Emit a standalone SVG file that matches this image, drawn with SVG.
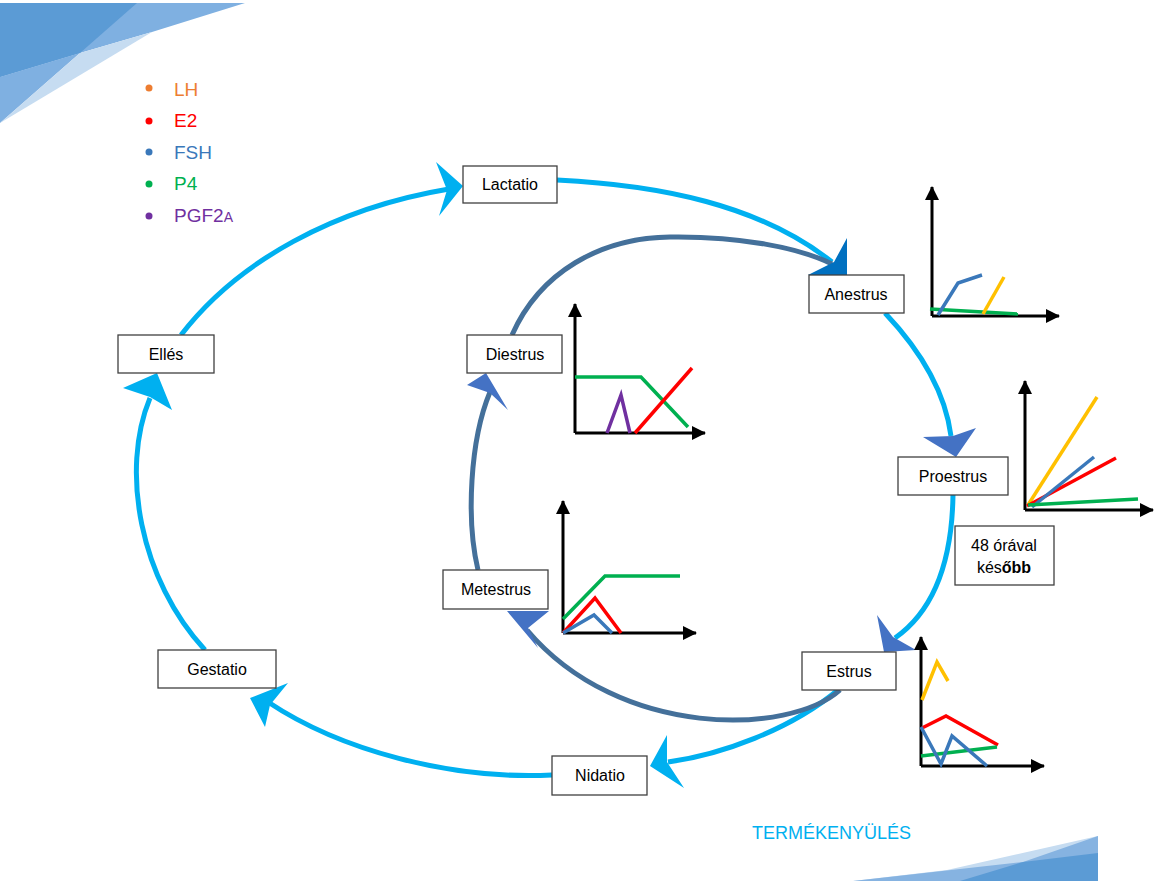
<svg xmlns="http://www.w3.org/2000/svg" width="1163" height="886" viewBox="0 0 1163 886">
<defs>
<style>
.box{fill:#fff;stroke:#404040;stroke-width:1.3}
.lbl{font-family:"Liberation Sans",Arial,sans-serif;font-size:16px;fill:#000;text-anchor:middle}
.outer{fill:none;stroke:#00B0F0;stroke-width:5}
.inner{fill:none;stroke:#44709A;stroke-width:5}
.ah-l{fill:#00B0F0}
.ah-d{fill:#4472C4}
.ah-x{fill:#0070C0}
.axis{fill:none;stroke:#000;stroke-width:3;marker-end:url(#ax)}
.d{fill:none;stroke-width:3.5}
.lh{stroke:#FFC000}.e2{stroke:#FF0000}.fsh{stroke:#3A78BA}.p4{stroke:#00B050}.pgf{stroke:#7030A0}
.leg{font-family:"Liberation Sans",Arial,sans-serif;font-size:19px}
</style>
<marker id="ax" markerUnits="userSpaceOnUse" markerWidth="14" markerHeight="14" refX="13" refY="7" orient="auto">
<path d="M0,0 L14,7 L0,14 Z" fill="#000"/>
</marker>
</defs>
<rect width="1163" height="886" fill="#fff"/>

<g id="decor-top">
<polygon points="0,3 245,3 152,32 80,53 0,77" fill="#7FB0E1"/>
<polygon points="0,77 80,53 0,123" fill="#7FB0E1"/>
<polygon points="0,123 80,53 152,32" fill="#C6DCF1"/>
<polygon points="0,3 137,3 80,53 0,77" fill="#5B9BD5"/>
</g>
<g id="decor-bottom">
<polygon points="853,881 947,870 1098,836 1098,881" fill="#C6DCF1"/>
<polygon points="853,881 1023,862 1098,836 1098,881" fill="#86B3E1"/>
<polygon points="960,881 1023,862 1098,853 1098,881" fill="#5B9BD5"/>
</g>

<g id="legend">
<circle cx="149" cy="88" r="3.5" fill="#ED7D31"/><text class="leg" x="174" y="96" fill="#ED7D31">LH</text>
<circle cx="149" cy="121" r="3.5" fill="#FF0000"/><text class="leg" x="174" y="127" fill="#FF0000">E2</text>
<circle cx="149" cy="152" r="3.5" fill="#3A78BA"/><text class="leg" x="174" y="159" fill="#3A78BA">FSH</text>
<circle cx="149" cy="184" r="3.5" fill="#00B050"/><text class="leg" x="174" y="190" fill="#00B050">P4</text>
<circle cx="149" cy="216" r="3.5" fill="#7030A0"/><text class="leg" x="174" y="222" fill="#7030A0">PGF2<tspan font-size="14px">A</tspan></text>
</g>

<g id="connectors">
<path class="outer" d="M181,335 A412,298 0 0 1 449,189"/>
<path class="outer" d="M557,180 C660,185 760,205 832,262"/>
<path class="outer" d="M885,313 C920,350 945,390 951,436"/>
<path class="outer" d="M953,495 C952,560 935,610 895,638"/>
<path class="outer" d="M838,690 C790,730 720,755 668,762"/>
<path class="outer" d="M552,775 C450,780 340,750 268,702"/>
<path class="outer" d="M205,650 C140,580 120,470 150,398"/>
<path class="inner" d="M512,335 C540,272 600,238 670,237 C740,236 800,248 832,264"/>
<path class="inner" d="M478,570 C466,520 470,440 490,392"/>
<path class="inner" d="M840,690 C790,735 620,740 527,630"/>
<polygon class="ah-l" points="436,162 463,186 439,216 447,190"/>
<polygon class="ah-l" points="157,373 123,388 150,397 172,410"/>
<polygon class="ah-l" points="250,698 288,683 270,705 265,727"/>
<polygon class="ah-l" points="650,766 667,735 667,762 684,788"/>
<polygon class="ah-x" points="847,275 847,238 834,262 808,275"/>
<polygon class="ah-d" points="956,457 923,437 953,436 976,428"/>
<polygon class="ah-d" points="884,652 877,615 893,637 916,650"/>
<polygon class="ah-d" points="507,611 549,611 528,628 538,648"/>
<polygon class="ah-d" points="486,373 467,385 490,393 508,410"/>
</g>

<g id="node-lactatio"><rect class="box" x="463" y="166" width="94" height="37"/><text class="lbl" x="510" y="190">Lactatio</text></g>
<g id="node-anestrus"><rect class="box" x="809" y="275" width="95" height="38"/><text class="lbl" x="856" y="300">Anestrus</text></g>
<g id="node-proestrus"><rect class="box" x="898" y="457" width="110" height="38"/><text class="lbl" x="953" y="482">Proestrus</text></g>
<g id="node-48"><rect class="box" x="955" y="526" width="99" height="59"/><text class="lbl" x="1004" y="551">48 órával</text><text class="lbl" x="1004" y="573">kés<tspan font-weight="bold">őbb</tspan></text></g>
<g id="node-estrus"><rect class="box" x="802" y="652" width="94" height="38"/><text class="lbl" x="849" y="677">Estrus</text></g>
<g id="node-nidatio"><rect class="box" x="552" y="756" width="95" height="39"/><text class="lbl" x="600" y="781">Nidatio</text></g>
<g id="node-gestatio"><rect class="box" x="158" y="650" width="118" height="38"/><text class="lbl" x="217" y="675">Gestatio</text></g>
<g id="node-elles"><rect class="box" x="118" y="335" width="96" height="38"/><text class="lbl" x="166" y="360">Ellés</text></g>
<g id="node-diestrus"><rect class="box" x="467" y="335" width="95" height="38"/><text class="lbl" x="515" y="360">Diestrus</text></g>
<g id="node-metestrus"><rect class="box" x="443" y="570" width="105" height="39"/><text class="lbl" x="496" y="595">Metestrus</text></g>

<g id="chart-anestrus">
<polyline class="axis" points="932,316 932,187"/>
<polyline class="axis" points="932,316 1059,316"/>
<polyline class="d p4" points="930,309 1018,314"/>
<polyline class="d fsh" points="938,315 958,283 982,275"/>
<polyline class="d lh" points="983,314 1004,277"/>
</g>
<g id="chart-proestrus">
<polyline class="axis" points="1025,510 1025,381"/>
<polyline class="axis" points="1025,510 1153,510"/>
<polyline class="d lh" points="1028,505 1097,397"/>
<polyline class="d e2" points="1027,506 1116,458"/>
<polyline class="d fsh" points="1032,507 1094,457"/>
<polyline class="d p4" points="1028,505 1138,499"/>
</g>
<g id="chart-estrus">
<polyline class="axis" points="921,766 921,637"/>
<polyline class="axis" points="921,766 1044,766"/>
<polyline class="d lh" points="922,700 937,662 948,681"/>
<polyline class="d e2" points="922,728 946,716 998,745"/>
<polyline class="d p4" points="921,756 997,747"/>
<polyline class="d fsh" points="921,727 941,764 952,736 987,766"/>
</g>
<g id="chart-diestrus">
<polyline class="axis" points="575,433 575,304"/>
<polyline class="axis" points="575,433 705,433"/>
<polyline class="d p4" points="575,377 641,377 688,427"/>
<polyline class="d pgf" points="607,433 621,395 630,433"/>
<polyline class="d e2" points="635,433 692,368"/>
</g>
<g id="chart-metestrus">
<polyline class="axis" points="563,633 563,501"/>
<polyline class="axis" points="563,633 696,633"/>
<polyline class="d p4" points="563,619 605,576 680,576"/>
<polyline class="d e2" points="563,633 595,598 621,633"/>
<polyline class="d fsh" points="563,633 594,615 612,633"/>
</g>

<text x="752" y="839" font-family="Liberation Sans,Arial,sans-serif" font-size="18px" fill="#00B0F0">TERMÉKENYÜLÉS</text>
</svg>
